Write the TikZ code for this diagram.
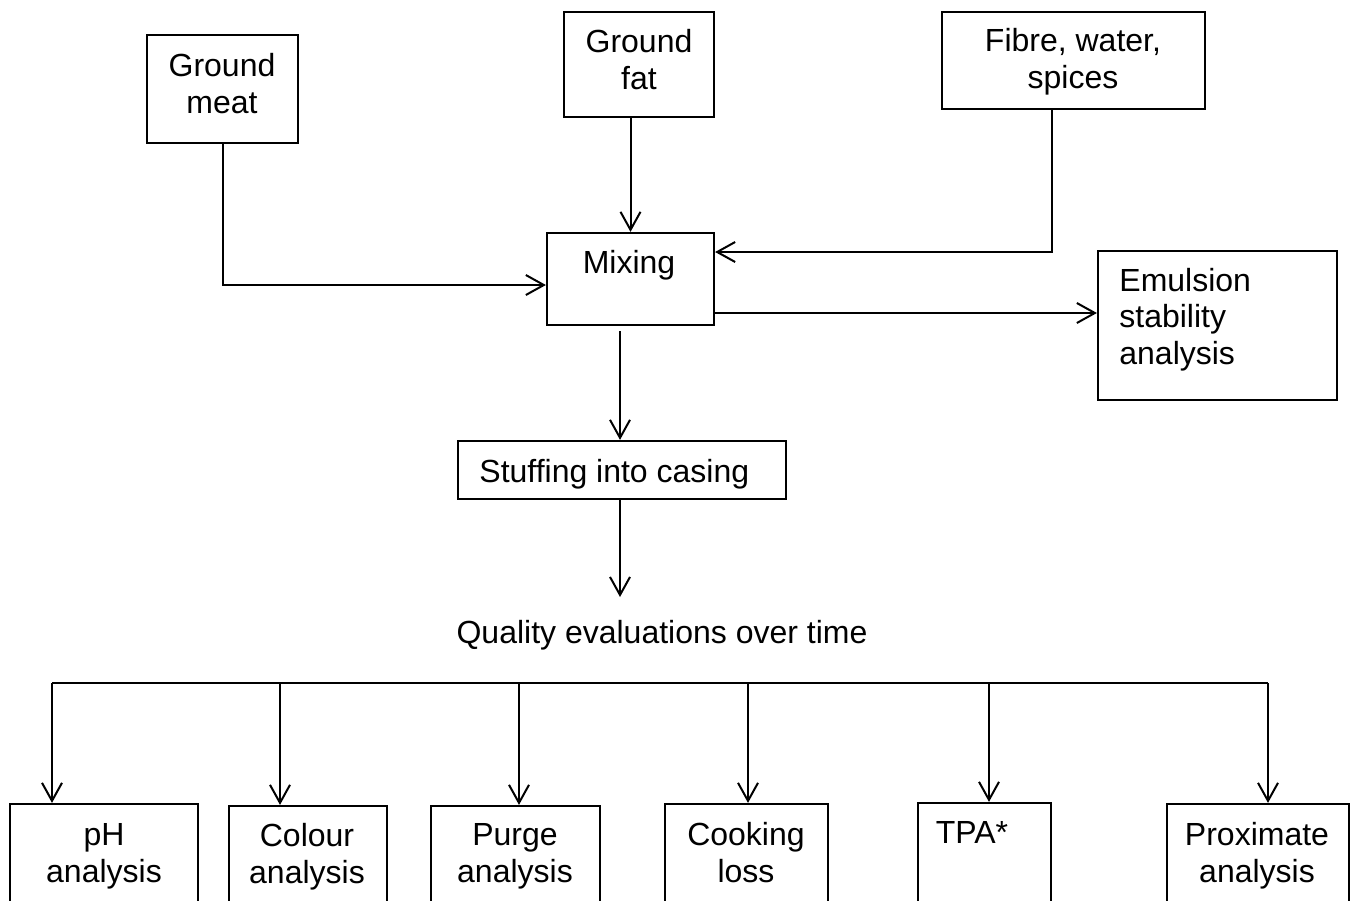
\documentclass[tikz,border=0pt]{standalone}
\usepackage{fontspec}
\setmainfont{Liberation Sans}
\usetikzlibrary{arrows.meta,fit,calc}
\begin{document}
\begin{tikzpicture}[x=0.5pt,y=-0.5pt,
  box/.style={draw=black,line width=1.1pt,inner sep=0pt,rectangle},
  txt/.style={font=\fontsize{16pt}{18.25pt}\selectfont,inner sep=0pt,align=center,anchor=base},
  arr/.style={line width=1pt,-{Straight Barb[length=9pt,width=10pt,line width=1pt]}},
  ln/.style={line width=1pt}]
\useasboundingbox (0,0) rectangle (1354,900);
\clip (0,0) rectangle (1354,900);

\node[box,fit={(147,35)(298,143)}] (gm) {};
\node[txt] (gmt) at (222,113) {Ground\\meat};
\node[box,fit={(564,12)(714,117)}] (gf) {};
\node[txt] (gft) at (639,89) {Ground\\fat};
\node[box,fit={(942,12)(1205,109)}] (fib) {};
\node[txt] (fibt) at (1073,88) {Fibre, water,\\spices};
\node[box,fit={(547,233)(714,325)}] (mix) {};
\node[txt] (mixt) at (629,273) {Mixing};
\node[box,fit={(1098,251)(1337,400)}] (emu) {};
\node[txt,align=left,anchor=base west] (emut) at (1119,364) {Emulsion\\stability\\analysis};
\node[box,fit={(458,441)(786,499)}] (stu) {};
\node[txt,anchor=base west] (stut) at (479,482) {Stuffing into casing};
\node[txt] (qual) at (662,643) {Quality evaluations over time};

\node[box,fit={(10,804)(198,940)}] (ph) {};
\node[txt] (pht) at (104,882) {pH\\analysis};
\node[box,fit={(229,806)(387,940)}] (col) {};
\node[txt] (colt) at (307,883) {Colour\\analysis};
\node[box,fit={(431,806)(600,940)}] (pur) {};
\node[txt] (purt) at (515,882) {Purge\\analysis};
\node[box,fit={(665,804)(828,940)}] (coo) {};
\node[txt] (coot) at (746,882) {Cooking\\loss};
\node[box,fit={(918,803)(1051,940)}] (tpa) {};
\node[txt] (tpat) at (972,843) {TPA*};
\node[box,fit={(1167,804)(1349,940)}] (pro) {};
\node[txt] (prot) at (1257,882) {Proximate\\analysis};

% connectors
\draw[arr] (gm.south) |- ([yshift=-3pt]mix.west);
\draw[arr] (mix.north |- gf.south) -- (mix.north);
\draw[arr] ([xshift=-11pt]fib.south) |- ([yshift=13.5pt]mix.east);
\coordinate (me) at ([yshift=-17pt]mix.east);
\draw[arr] (me) -- (me -| emu.west);
\coordinate (m1) at ([yshift=-2.5pt]mix.south);
\coordinate (s1) at ([xshift=-1pt]stu.north);
\draw[arr] (m1 -| s1) -- (s1);
\coordinate (qa) at (620,597);
\draw[arr] (stu.south -| s1) -- (qa);

\coordinate (b1) at (52,683);
\coordinate (b2) at (280,683);
\coordinate (b3) at (519,683);
\coordinate (b4) at (748,683);
\coordinate (b5) at (989,683);
\coordinate (b6) at (1268,683);
\draw[ln] (b1) -- (b6);
\draw[arr] (b1) -- (b1 |- ph.north);
\draw[arr] (b2) -- (b2 |- col.north);
\draw[arr] (b3) -- (b3 |- pur.north);
\draw[arr] (b4) -- (b4 |- coo.north);
\draw[arr] (b5) -- (b5 |- tpa.north);
\draw[arr] (b6) -- (b6 |- pro.north);
\end{tikzpicture}
\end{document}
